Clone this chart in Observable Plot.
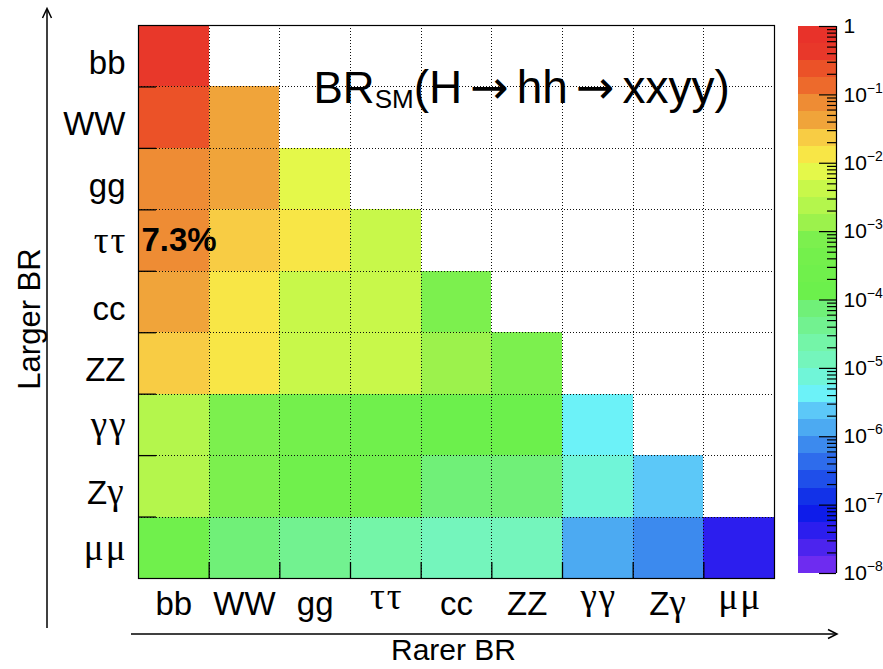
<!DOCTYPE html>
<html>
<head>
<meta charset="utf-8">
<script src="https://cdn.jsdelivr.net/npm/d3@7"></script>
<script src="https://cdn.jsdelivr.net/npm/@observablehq/plot@0.6"></script>
<style>
  body { margin: 0; background: #fff; }
  #wrap { position: relative; width: 883px; height: 669px; }
  #wrap svg { position: absolute; top: 0; left: 0; overflow: visible; }
</style>
</head>
<body>
<div id="wrap"></div>
<script>
// ---------------- data ----------------
const categories = ["bb", "WW", "gg", "ττ", "cc", "ZZ", "γγ", "Zγ", "μμ"];
// one row per "larger BR" channel, values for each "rarer BR" column up to the diagonal
const rowBB     = [0.34];
const rowWW     = [0.25, 0.046];
const rowGG     = [0.095, 0.035, 0.0067];
const rowTauTau = [0.073, 0.027, 0.0103, 0.0040];
const rowCC     = [0.034, 0.0125, 0.0048, 0.0037, 0.00084];
const rowZZ     = [0.030, 0.011, 0.0043, 0.0033, 0.0015, 0.00068];
const rowGamGam = [0.0026, 0.00098, 0.00037, 0.00029, 0.00013, 0.00012, 0.0000052];
const rowZGam   = [0.0018, 0.00066, 0.00025, 0.00019, 0.000089, 0.000080, 0.0000070, 0.0000024];
const rowMuMu   = [0.00026, 0.000095, 0.000036, 0.000028, 0.000013, 0.000011, 0.00000105, 0.00000068, 0.000000048];

const colorTicks      = [1e-8, 1e-7, 1e-6, 1e-5, 1e-4, 1e-3, 1e-2, 1e-1, 1];
const colorTickLabels = ["10⁻⁸", "10⁻⁷", "10⁻⁶", "10⁻⁵", "10⁻⁴", "10⁻³", "10⁻²", "10⁻¹", "1"];
const paletteColors = [
  "#6E2CF0", "#4C24EE", "#2C1EEE", "#0E1CEA", "#1232E8", "#1F4FEA", "#2E6CEC", "#3C8AEE",
  "#4CAAF2", "#5CC8F8", "#6CF2F8", "#70F5D8", "#74F5BC", "#74F5A8", "#72F290", "#70F078",
  "#6CF04C", "#70F04C", "#74F04C", "#7CF04E", "#9CF24C", "#B4F64C", "#C8F84A", "#E4F84A",
  "#F8E646", "#F8CC44", "#F0A43A", "#EE8C34", "#ED6A2C", "#EB5228", "#E8382A", "#E8322A"
];
const titleParts = ["BR", "SM", "(H→hh→xxyy)"];
const xTitle = "Rarer BR";
const yTitle = "Larger BR";
const highlightCell = { larger: "ττ", rarer: "bb" };

// ---------------- derived tables ----------------
const rows = [rowBB, rowWW, rowGG, rowTauTau, rowCC, rowZZ, rowGamGam, rowZGam, rowMuMu];
const cells = [];
rows.forEach((vals, i) => vals.forEach((v, j) =>
  cells.push({ row: i, col: j, larger: categories[i], rarer: categories[j], value: v })));

const nBands = paletteColors.length;
const lo = colorTicks[0], hi = colorTicks[colorTicks.length - 1];
const thresholds = d3.range(1, nBands).map(k => lo * Math.pow(hi / lo, k / nBands));
const bandEdges = [lo, ...thresholds, hi];
const bands = d3.range(nBands).map(k => ({ lo: bandEdges[k], hi: bandEdges[k + 1] }));
const minorTicks = d3.scaleLog().domain([lo, hi]).ticks().filter(t => !colorTicks.some(c => Math.abs(c - t) / t < 1e-6));

const colorScale = { type: "threshold", domain: thresholds, range: paletteColors };
const FONT = '"Liberation Sans", Arial, Helvetica, sans-serif';
const isGreekOnly = s => /^[\u0370-\u03FF]+$/.test(s);
const boundaries = d3.range(1, categories.length);

// ---------------- main heat map ----------------
const W = 883, H = 669;
const mL = 138, mT = 25, mR = W - 774, mB = H - 578;
const frameW = W - mL - mR, frameH = H - mT - mB;
const gridStyle = { stroke: "#111", strokeDasharray: "1,2", strokeWidth: 1, shapeRendering: "crispEdges" };

const main = Plot.plot({
  width: W, height: H,
  marginLeft: mL, marginTop: mT, marginRight: mR, marginBottom: mB,
  style: { fontFamily: FONT, background: "none", overflow: "visible", color: "#000" },
  x: { domain: [0, categories.length], axis: null },
  y: { domain: [0, categories.length], reverse: true, axis: null },
  color: colorScale,
  marks: [
    Plot.rect(cells, { x1: "col", x2: d => d.col + 1, y1: "row", y2: d => d.row + 1, fill: "value", shapeRendering: "crispEdges" }),
    Plot.ruleX(boundaries, gridStyle),
    Plot.ruleY(boundaries, gridStyle),
    Plot.tickY(boundaries, { y: d => d, insetRight: frameW - 18, stroke: "#000", strokeWidth: 1.3 }),
    Plot.tickX(boundaries, { x: d => d, insetTop: frameH - 16, stroke: "#000", strokeWidth: 1.3 }),
    Plot.frame({ stroke: "#000", strokeWidth: 1.2 }),
    // highlighted value
    Plot.text(cells.filter(d => d.larger === highlightCell.larger && d.rarer === highlightCell.rarer), {
      x: "col", y: d => d.row + 0.5, text: d => d3.format(".1%")(d.value),
      textAnchor: "start", lineAnchor: "middle", dx: 3, fontWeight: "bold", fontSize: 33, fill: "#000"
    }),
    // title inside the frame
    Plot.text([titleParts.join("")], {
      frameAnchor: "top-left", textAnchor: "start", lineAnchor: "middle", dx: 175, dy: 63, fontSize: 44, fill: "#000"
    }),
    // y tick labels
    Plot.text(categories.filter(d => !isGreekOnly(d)), {
      y: d => categories.indexOf(d) + 0.5, frameAnchor: "left", textAnchor: "end", lineAnchor: "middle",
      dx: -13, dy: 7, fontSize: 33, fill: "#000"
    }),
    Plot.text(categories.filter(isGreekOnly), {
      y: d => categories.indexOf(d) + 0.5, frameAnchor: "left", textAnchor: "end", lineAnchor: "middle",
      dx: -11, dy: 2, fontSize: 33, fill: "#000"
    }),
    // x tick labels
    Plot.text(categories.filter(d => !isGreekOnly(d)), {
      x: d => categories.indexOf(d) + 0.5, frameAnchor: "bottom", textAnchor: "middle", lineAnchor: "middle",
      dy: 26, fontSize: 33, fill: "#000"
    }),
    Plot.text(categories.filter(isGreekOnly), {
      x: d => categories.indexOf(d) + 0.5, frameAnchor: "bottom", textAnchor: "middle", lineAnchor: "middle",
      dx: 1, dy: 20, fontSize: 33, fill: "#000"
    }),
    // axis titles
    Plot.text([yTitle], { frameAnchor: "left", textAnchor: "middle", lineAnchor: "middle", rotate: -90, dx: -108, dy: 17, fontSize: 31, fill: "#000" }),
    Plot.text([xTitle], { frameAnchor: "bottom", textAnchor: "middle", lineAnchor: "middle", dx: -3, dy: 72, fontSize: 30, fill: "#000" })
  ]
});

// ---------------- colour bar ----------------
const barLeft = 798, barRight = 836, barTop = 26, barBottom = 573;
const barW = barRight - barLeft;
const bar = Plot.plot({
  width: W, height: H,
  marginLeft: barLeft, marginRight: W - barRight, marginTop: barTop, marginBottom: H - barBottom,
  style: { fontFamily: FONT, background: "none", overflow: "visible", color: "#000" },
  x: { domain: [0, 1], axis: null },
  y: { type: "log", domain: [lo, hi], axis: null },
  color: colorScale,
  marks: [
    Plot.rect(bands, { y1: "lo", y2: "hi", fill: d => Math.sqrt(d.lo * d.hi), shapeRendering: "crispEdges" }),
    Plot.tickY(minorTicks, { y: d => d, insetLeft: barW - 9, stroke: "#000", strokeWidth: 1.2 }),
    Plot.tickY(colorTicks, { y: d => d, insetLeft: barW - 17, stroke: "#000", strokeWidth: 1.2 }),
    Plot.ruleX([1], { stroke: "#000", strokeWidth: 1.2 }),
    Plot.text(colorTicks, {
      y: d => d, text: (d, i) => colorTickLabels[i], frameAnchor: "right",
      textAnchor: "start", lineAnchor: "middle", dx: 7, fontSize: 21, fill: "#000"
    })
  ]
});

const wrap = document.getElementById("wrap");
wrap.appendChild(main);
wrap.appendChild(bar);

// ---------------- text post-processing ----------------
const SVGNS = "http://www.w3.org/2000/svg";
function tspan(parent, txt, attrs) {
  const t = document.createElementNS(SVGNS, "tspan");
  t.textContent = txt;
  for (const k in attrs) t.setAttribute(k, attrs[k]);
  parent.appendChild(t);
  return t;
}
// Greek letters in a serif (symbol-like) face
main.querySelectorAll("text").forEach(el => {
  if (el.querySelector("tspan")) return;
  const s = el.textContent;
  if (!/[\u0370-\u03FF]/.test(s)) return;
  el.textContent = "";
  s.match(/[\u0370-\u03FF]+|[^\u0370-\u03FF]+/g).forEach(run => {
    if (/[\u0370-\u03FF]/.test(run)) tspan(el, run, { "font-family": '"Liberation Serif", "DejaVu Serif", serif', "font-size": "37", "letter-spacing": "2" });
    else tspan(el, run, {});
  });
});
// title with subscript and wide arrows
main.querySelectorAll("text").forEach(el => {
  if (el.textContent !== titleParts.join("")) return;
  el.textContent = "";
  tspan(el, titleParts[0], {});
  tspan(el, titleParts[1], { "font-size": "26", dy: "5" });
  const pieces = titleParts[2].split("→");
  pieces.forEach((p, i) => {
    if (i > 0) tspan(el, "→", { "font-family": '"DejaVu Sans", sans-serif', "font-size": "46", dx: "8" });
    const attrs = { "font-size": "46" };
    if (i === 0) attrs.dy = "-5"; else attrs.dx = "8";
    tspan(el, p, attrs);
  });
});
// superscripts on colour bar labels
const supMap = { "⁻": "−", "⁰": "0", "¹": "1", "²": "2", "³": "3", "⁴": "4", "⁵": "5", "⁶": "6", "⁷": "7", "⁸": "8", "⁹": "9" };
bar.querySelectorAll("text").forEach(el => {
  const m = el.textContent.match(/^10([⁻⁰¹²³⁴⁵⁶⁷⁸⁹]+)$/);
  if (!m) return;
  el.textContent = "";
  tspan(el, "10", {});
  tspan(el, [...m[1]].map(c => supMap[c]).join(""), { "font-size": "14", dy: "-9" });
});

// ---------------- axis arrows (decoration) ----------------
const deco = d3.select(main).append("g").attr("fill", "none").attr("stroke", "#000").attr("stroke-width", 1.5);
deco.append("line").attr("x1", 47).attr("y1", 628).attr("x2", 47).attr("y2", 9);
deco.append("path").attr("d", "M42.5,18L47,8.5L51.5,18");
deco.append("line").attr("x1", 131).attr("y1", 634).attr("x2", 836).attr("y2", 634);
deco.append("path").attr("d", "M828,629.5L837,634L828,638.5");
</script>
</body>
</html>
